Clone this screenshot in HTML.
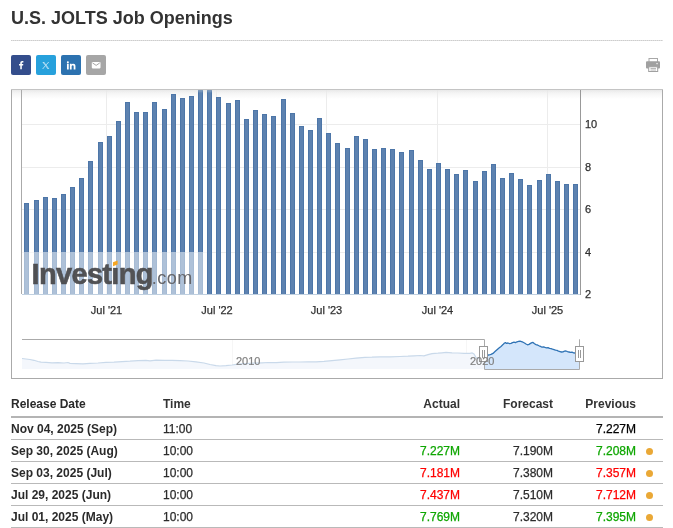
<!DOCTYPE html>
<html lang="en"><head><meta charset="utf-8"><title>U.S. JOLTS Job Openings</title>
<style>
html,body{margin:0;padding:0;background:#fff;}
body{width:673px;height:528px;position:relative;overflow:hidden;font-family:"Liberation Sans",Arial,sans-serif;color:#333;}
h1{position:absolute;left:11px;top:7px;margin:0;font-size:18px;line-height:22px;font-weight:bold;color:#333;white-space:nowrap;}
.hr{position:absolute;left:11px;top:40px;width:652px;height:1px;background:repeating-linear-gradient(90deg,#cdcdcd 0,#cdcdcd 1px,#e0e0e0 1px,#e0e0e0 2px);}
.sh{position:absolute;top:55px;width:20px;height:20px;border-radius:2px;}
.sh svg{position:absolute;left:0;top:0;}
.chart{position:absolute;left:0;top:0;}
.th,.tr{position:absolute;left:11px;width:652px;height:22px;font-size:12px;line-height:22px;white-space:nowrap;}
.th{top:393px;font-weight:bold;border-bottom:2px solid #b4b4b4;height:23px;line-height:23px;}
.tr{border-bottom:1px solid #b9b9b9;height:21px;-webkit-text-stroke:.25px;color:#2c2c2c;}
.tr span,.th span{position:absolute;top:0;}
.c1{left:0;font-weight:bold;-webkit-text-stroke:0;color:#2a2a2a;}
.c2{left:152px;}
.c3{right:203px;text-align:right;}
.c4{right:110px;text-align:right;}
.c5{right:27px;text-align:right;}
.k{color:#000;}
.g{color:#0ea600;}
.r{color:#ff0000;}
.dot{position:absolute;right:10px;top:8px;width:7px;height:7px;border-radius:50%;background:#eaa836;}
</style></head><body>
<h1>U.S. JOLTS Job Openings</h1>
<div class="hr"></div>
<div class="sh" style="left:11px;background:#344e8c"><svg width="20" height="20" viewBox="0 0 20 20"><path transform="translate(10.2 10.15) scale(.78) translate(-10.1 -10.15)" d="M10.9 15.5v-5h1.6l.3-1.9h-1.9V7.5c0-.6.2-.9 1-.9h1V4.9c-.2 0-.8-.1-1.5-.1-1.500 0-2.500.9-2.500 2.600v1.200H7.300v1.900h1.600v5z" fill="#fff"/></svg></div>
<div class="sh" style="left:36px;background:#27a1dc"><svg width="20" height="20" viewBox="0 0 20 20"><path transform="translate(9.8 10.45) scale(.86) translate(-10.15 -9.65)" d="M6.200 5.500h1.900l2.300 3.100 2.700-3.100h.9l-3.200 3.700 3.400 4.600h-1.900l-2.500-3.400-2.900 3.400h-.900l3.400-4zm1.200.6 5.500 7.400h.4L7.800 6.100z" fill="#d8eefa"/></svg></div>
<div class="sh" style="left:61px;background:#2c72b0"><svg width="20" height="20" viewBox="0 0 20 20"><path transform="translate(10.15 10.3) scale(.93) translate(-9.78 -9.75)" d="M5.300 8.200h1.900v6H5.300zM6.250 5.300a1.100 1.100 0 1 1 0 2.200 1.100 1.100 0 0 1 0-2.200zM8.400 8.200h1.800v.8c.3-.5.900-1 1.900-1 1.900 0 2.300 1.200 2.300 2.800v3.400h-1.900v-3c0-.7 0-1.600-1-1.600s-1.200.8-1.200 1.600v3H8.400z" fill="#fff"/></svg></div>
<div class="sh" style="left:86px;background:#a6a6a6"><svg width="20" height="20" viewBox="0 0 20 20"><rect x="5.800" y="7" width="8.700" height="6.400" rx=".8" fill="#fff"/><path d="M6.500 7.900 10.15 10.400l3.650-2.500" fill="none" stroke="#a6a6a6" stroke-width="1"/></svg></div>
<svg style="position:absolute;left:646px;top:58px" width="14" height="14" viewBox="0 0 14 14"><rect x="3" y=".5" width="8.500" height="4" fill="#fff" stroke="#a8a8a8"/><rect x="0" y="3.200" width="14" height="7.400" rx="1" fill="#a0a0a0"/><rect x="2.700" y="8.800" width="9" height="4.700" fill="#fff" stroke="#a0a0a0"/><path d="M4.500 10.500h5.500M4.500 12h5.500" stroke="#b0b0b0" stroke-width=".9"/><rect x="10.300" y="5" width="1.500" height="1.200" fill="#e8e8e8"/></svg>

<svg class="chart" width="673" height="528" viewBox="0 0 673 528" font-family="Liberation Sans, Arial, sans-serif">
<defs>
<linearGradient id="tg" x1="0" y1="0" x2="0" y2="1"><stop offset="0" stop-color="#efefef"/><stop offset="1" stop-color="#ffffff"/></linearGradient>
<linearGradient id="tg2" x1="0" y1="0" x2="0" y2="1"><stop offset="0" stop-color="#e0e0e0" stop-opacity=".4"/><stop offset="1" stop-color="#e0e0e0" stop-opacity="0"/></linearGradient>
<clipPath id="nodot"><path clip-rule="evenodd" d="M0 240H240V300H0Z M110 258H121V267.600H110Z"/></clipPath>
</defs>
<path d="M11.500 89V379M662.500 89V379M11 378.500H663" fill="none" stroke="#aaaaaa"/><path d="M11 89.500H663" stroke="#c4c4c4"/>
<rect x="12" y="90" width="650" height="9" fill="url(#tg)"/>
<!-- grid -->
<g stroke="#ececec" stroke-width="1" shape-rendering="crispEdges">
<path d="M22 124.500H580M22 167.500H580M22 209.500H580M22 252.500H580"/>
<path d="M106.500 90V294M216.500 90V294M326.500 90V294M437.500 90V294M547.500 90V294"/>
</g>
<g fill="#5d82b0" stroke="#4d76a8" stroke-width="1"><rect x="24.5" y="203.5" width="4" height="91"/><rect x="34.5" y="200.5" width="4" height="94"/><rect x="43.5" y="197.5" width="4" height="97"/><rect x="52.5" y="198.5" width="4" height="96"/><rect x="61.5" y="194.5" width="4" height="100"/><rect x="70.5" y="187.5" width="4" height="107"/><rect x="79.5" y="178.5" width="4" height="116"/><rect x="88.5" y="161.5" width="4" height="133"/><rect x="98.5" y="142.5" width="4" height="152"/><rect x="107.5" y="136.5" width="4" height="158"/><rect x="116.5" y="121.5" width="4" height="173"/><rect x="125.5" y="102.5" width="4" height="192"/><rect x="134.5" y="112.5" width="4" height="182"/><rect x="143.5" y="112.5" width="4" height="182"/><rect x="152.5" y="102.5" width="4" height="192"/><rect x="162.5" y="109.5" width="4" height="185"/><rect x="171.5" y="94.5" width="4" height="200"/><rect x="180.5" y="98.5" width="4" height="196"/><rect x="189.5" y="96.5" width="4" height="198"/><rect x="198.5" y="90.5" width="4" height="204"/><rect x="207.5" y="90.5" width="4" height="204"/><rect x="216.5" y="97.5" width="4" height="197"/><rect x="226.5" y="103.5" width="4" height="191"/><rect x="235.5" y="100.5" width="4" height="194"/><rect x="244.5" y="119.5" width="4" height="175"/><rect x="253.5" y="110.5" width="4" height="184"/><rect x="262.5" y="114.5" width="4" height="180"/><rect x="271.5" y="116.5" width="4" height="178"/><rect x="281.5" y="99.5" width="4" height="195"/><rect x="290.5" y="113.5" width="4" height="181"/><rect x="299.5" y="126.5" width="4" height="168"/><rect x="308.5" y="130.5" width="4" height="164"/><rect x="317.5" y="118.5" width="4" height="176"/><rect x="326.5" y="133.5" width="4" height="161"/><rect x="335.5" y="143.5" width="4" height="151"/><rect x="345.5" y="148.5" width="4" height="146"/><rect x="354.5" y="136.5" width="4" height="158"/><rect x="363.5" y="139.5" width="4" height="155"/><rect x="372.5" y="149.5" width="4" height="145"/><rect x="381.5" y="148.5" width="4" height="146"/><rect x="390.5" y="149.5" width="4" height="145"/><rect x="399.5" y="152.5" width="4" height="142"/><rect x="409.5" y="150.5" width="4" height="144"/><rect x="418.5" y="160.5" width="4" height="134"/><rect x="427.5" y="169.5" width="4" height="125"/><rect x="436.5" y="163.5" width="4" height="131"/><rect x="445.5" y="169.5" width="4" height="125"/><rect x="454.5" y="174.5" width="4" height="120"/><rect x="463.5" y="170.5" width="4" height="124"/><rect x="473.5" y="181.5" width="4" height="113"/><rect x="482.5" y="171.5" width="4" height="123"/><rect x="491.5" y="164.5" width="4" height="130"/><rect x="500.5" y="178.5" width="4" height="116"/><rect x="509.5" y="173.5" width="4" height="121"/><rect x="518.5" y="179.5" width="4" height="115"/><rect x="527.5" y="185.5" width="4" height="109"/><rect x="537.5" y="180.5" width="4" height="114"/><rect x="546.5" y="174.5" width="4" height="120"/><rect x="555.5" y="181.5" width="4" height="113"/><rect x="564.5" y="184.5" width="4" height="110"/><rect x="573.5" y="184.5" width="4" height="110"/></g>
<rect x="12" y="90" width="650" height="3" fill="url(#tg2)"/>
<rect x="22" y="252" width="185" height="42" fill="#ffffff" fill-opacity=".5"/>
<path d="M22 294.500H581" stroke="#c0d0e0" stroke-width="1"/>
<path d="M21.500 90V294" stroke="#aaaaaa" stroke-width="1"/>
<path d="M580.500 90V295" stroke="#999999" stroke-width="1"/>
<!-- watermark -->
<g clip-path="url(#nodot)"><text x="31.500" y="283.500" font-size="29" font-weight="bold" fill="#4a4a4c" stroke="#4a4a4c" stroke-width=".6" fill-opacity=".95" stroke-opacity=".9" textLength="122" lengthAdjust="spacing">Investing</text></g>
<text x="151.800" y="283.500" font-size="18" fill="#66666a" textLength="40.500" lengthAdjust="spacing">.com</text>
<path d="M113 262.300 117.600 260.600V264.600L113 266.200Z" fill="#f6a623"/>
<!-- axis labels -->
<g font-size="11" fill="#303030" stroke="#303030" stroke-width=".25">
<text x="585" y="128">10</text><text x="585" y="171">8</text><text x="585" y="213">6</text><text x="585" y="256">4</text><text x="585" y="298">2</text>
<g text-anchor="middle"><text x="106.500" y="314">Jul '21</text><text x="217" y="314">Jul '22</text><text x="326.500" y="314">Jul '23</text><text x="437.500" y="314">Jul '24</text><text x="547.500" y="314">Jul '25</text></g>
</g>
<!-- navigator -->
<path d="M232.500 340V369M466.500 340V369" stroke="#f6f6f6" stroke-width="1"/>
<polygon points="22,358.5 26,359 30,359.5 34,360.3 38,361.5 41,362.2 46,362.4 52,362.8 58,362.6 64,363 68,362.5 70,363.3 76,363.6 83,363.8 90,363.3 98,363 106,362.4 114,362.2 122,361.6 130,361.2 138,360.6 146,360.3 150,360.8 156,360.2 164,360.3 172,360.4 180,360.6 188,361 196,361.8 204,363 210,364.5 216,365.6 220,366 226,365.6 232,365 238,364.2 246,363.6 254,363.2 262,362.8 268,362.5 276,362.6 284,362.2 292,362 300,362 308,361.8 316,361.8 324,361.4 332,360.6 340,359.8 348,359 356,358.2 365,357.3 372,357.2 380,356.8 390,356.8 400,356.5 408,356.2 414,355.8 420,355.5 424,355.8 428,354.6 432,353.6 438,353.2 442,352.8 446,352.4 452,352.8 458,353 464,353.3 470,353.4 472,353 474,354 476,357.5 478,358.5 480,357.5 482,356.2 484.5,355.2 484.5,369 22,369" fill="#f4f7fc"/>
<polyline points="22,358.5 26,359 30,359.5 34,360.3 38,361.5 41,362.2 46,362.4 52,362.8 58,362.6 64,363 68,362.5 70,363.3 76,363.6 83,363.8 90,363.3 98,363 106,362.4 114,362.2 122,361.6 130,361.2 138,360.6 146,360.3 150,360.8 156,360.2 164,360.3 172,360.4 180,360.6 188,361 196,361.8 204,363 210,364.5 216,365.6 220,366 226,365.6 232,365 238,364.2 246,363.6 254,363.2 262,362.8 268,362.5 276,362.6 284,362.2 292,362 300,362 308,361.8 316,361.8 324,361.4 332,360.6 340,359.8 348,359 356,358.2 365,357.3 372,357.2 380,356.8 390,356.8 400,356.5 408,356.2 414,355.8 420,355.5 424,355.8 428,354.6 432,353.6 438,353.2 442,352.8 446,352.4 452,352.8 458,353 464,353.3 470,353.4 472,353 474,354 476,357.5 478,358.5 480,357.5 482,356.2 484.5,355.2" fill="none" stroke="#c9d9ea" stroke-width="1.200"/>
<polygon points="484.5,355 487,355.2 489,355 491,354.4 493,353.4 495,351.6 497,349.8 499,348 501,346.4 503,344.6 504.5,343 505.5,342.6 506.5,343.4 508,343 509.5,343.6 511,343.4 512.5,342.6 514,342.2 515.5,342.6 517,341.8 518.5,341.4 520,341.2 521.5,341.6 523,342.2 524.5,343 526,344 527.5,344.8 529,344.4 530.5,343.4 532,342.6 533,342.4 534.5,343.8 536,344.6 537.5,345 539,345.8 540.5,346.4 542,347.2 543.5,346.8 545,347.4 546.5,347.8 548,347.6 549.5,348.4 551,348.6 552.5,349.2 554,349.6 555.5,350.2 557,350.4 558.5,351.2 560,351.6 561.5,352 563,351.8 564.5,351.2 566,351 567.5,351.6 569,352 570.5,352.4 572,352.2 573.5,352.8 575,353 577,353.2 579.5,353.4 579.5,369 484.5,369" fill="#d4e6fb"/>
<polyline points="484.5,355 487,355.2 489,355 491,354.4 493,353.4 495,351.6 497,349.8 499,348 501,346.4 503,344.6 504.5,343 505.5,342.6 506.5,343.4 508,343 509.5,343.6 511,343.4 512.5,342.6 514,342.2 515.5,342.6 517,341.8 518.5,341.4 520,341.2 521.5,341.6 523,342.2 524.5,343 526,344 527.5,344.8 529,344.4 530.5,343.4 532,342.6 533,342.4 534.5,343.8 536,344.6 537.5,345 539,345.8 540.5,346.4 542,347.2 543.5,346.8 545,347.4 546.5,347.8 548,347.6 549.5,348.4 551,348.6 552.5,349.2 554,349.6 555.5,350.2 557,350.4 558.5,351.2 560,351.6 561.5,352 563,351.8 564.5,351.2 566,351 567.5,351.6 569,352 570.5,352.4 572,352.2 573.5,352.8 575,353 577,353.2 579.5,353.4" fill="none" stroke="#2f73b5" stroke-width="1.300" stroke-linejoin="round"/>
<path d="M22 339.500H484.500V369.500H579.500V339.500H580" fill="none" stroke="#aaaaaa" stroke-width="1"/>
<g fill="#ffffff" stroke="#999999" stroke-width="1"><rect x="479.500" y="346.500" width="8" height="15"/><rect x="575.500" y="346.500" width="8" height="15"/></g>
<path d="M482.500 350V358M484.500 350V358M578.500 350V358M580.500 350V358" stroke="#999999" stroke-width="1"/>
<g font-size="11" fill="#808080" stroke="#808080" stroke-width=".2"><text x="236" y="365">2010</text><text x="470" y="365">2020</text></g>
</svg>

<div class="th"><span class="c1">Release Date</span><span class="c2" style="font-weight:bold">Time</span><span class="c3">Actual</span><span class="c4">Forecast</span><span class="c5">Previous</span></div>
<div class="tr" style="top:418px"><span class="c1">Nov 04, 2025 (Sep)</span><span class="c2">11:00</span><span class="c3 "></span><span class="c4"></span><span class="c5 k">7.227M</span></div>
<div class="tr" style="top:440px"><span class="c1">Sep 30, 2025 (Aug)</span><span class="c2">10:00</span><span class="c3 g">7.227M</span><span class="c4">7.190M</span><span class="c5 g">7.208M</span><i class="dot"></i></div>
<div class="tr" style="top:462px"><span class="c1">Sep 03, 2025 (Jul)</span><span class="c2">10:00</span><span class="c3 r">7.181M</span><span class="c4">7.380M</span><span class="c5 r">7.357M</span><i class="dot"></i></div>
<div class="tr" style="top:484px"><span class="c1">Jul 29, 2025 (Jun)</span><span class="c2">10:00</span><span class="c3 r">7.437M</span><span class="c4">7.510M</span><span class="c5 r">7.712M</span><i class="dot"></i></div>
<div class="tr" style="top:506px"><span class="c1">Jul 01, 2025 (May)</span><span class="c2">10:00</span><span class="c3 g">7.769M</span><span class="c4">7.320M</span><span class="c5 g">7.395M</span><i class="dot"></i></div>

</body></html>
